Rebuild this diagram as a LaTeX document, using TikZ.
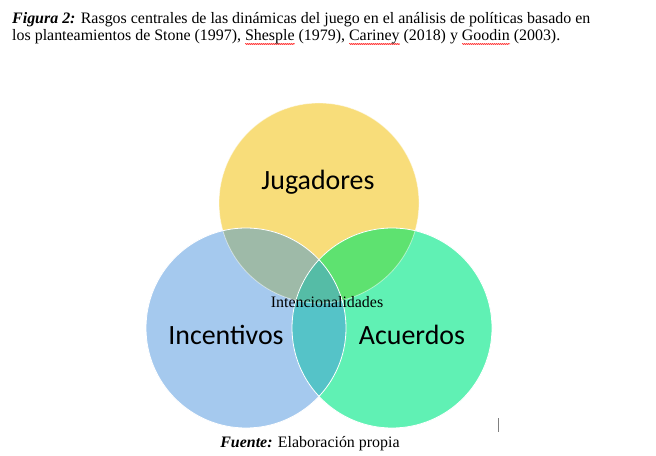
\documentclass[tikz,border=0pt]{standalone}
\usepackage{fontspec}
\setmainfont{Liberation Serif}
\newfontfamily\calib{Carlito}
\usetikzlibrary{decorations.pathmorphing}
\newsavebox\spbox
\newcommand\spellerr[1]{\begingroup\sbox\spbox{#1}\rlap{\tikz[x=1bp,y=1bp,baseline=0pt]{\draw[red, line width=0.5bp, decorate, decoration={zigzag, segment length=2bp, amplitude=0.6bp}] (0,-3) -- (\the\wd\spbox,-3);}}\usebox\spbox\endgroup}
\definecolor{cy}{HTML}{F8DD7A}
\definecolor{cb}{HTML}{A5C9EE}
\definecolor{cg}{HTML}{60F1B4}
\definecolor{cyb}{HTML}{9EBAA8}
\definecolor{cyg}{HTML}{5EE270}
\definecolor{cbg}{HTML}{55C3C8}
\definecolor{cybg}{HTML}{55BCA6}
\tikzset{
  captxt/.style={font=\fontsize{16}{19}\selectfont, inner sep=0pt, anchor=base west},
  bigtxt/.style={font=\calib\fontsize{28}{32}\selectfont, inner sep=0pt},
  smalltxt/.style={font=\fontsize{16}{19}\selectfont, inner sep=0pt, anchor=base},
  rim/.style={draw=white, line width=0.8bp},
}
\begin{document}
\begin{tikzpicture}[x=1bp,y=-1bp]
\path[use as bounding box, fill=white] (0,0) rectangle (656,456);
\node[captxt] (t1) at (12,23.5) {\textbf{\textit{Figura 2:}} Rasgos centrales de las dinámicas del juego en el análisis de políticas basado en};
\node[captxt] (t2) at (12,41) {los planteamientos de Stone (1997), \spellerr{Shesple} (1979), \spellerr{Cariney} (2018) y \spellerr{Goodin} (2003).};
\coordinate (Y) at (319,203);
\coordinate (B) at (246,328);
\coordinate (G) at (392,328);
\fill[cy] (Y) circle[radius=100bp];
\fill[cb] (B) circle[radius=100bp];
\fill[cg] (G) circle[radius=100bp];
\begin{scope}
  \clip (Y) circle[radius=100bp];
  \fill[cyb] (B) circle[radius=100bp];
  \fill[cyg] (G) circle[radius=100bp];
\end{scope}
\begin{scope}
  \clip (B) circle[radius=100bp];
  \fill[cbg] (G) circle[radius=100bp];
  \clip (Y) circle[radius=100bp];
  \fill[cybg] (G) circle[radius=100bp];
\end{scope}
\draw[rim, draw opacity=0.5] (Y) circle[radius=100bp];
\draw[rim] (B) circle[radius=100bp];
\draw[rim] (G) circle[radius=100bp];
\node[bigtxt] (jug) at (318,182) {Jugadores};
\node[bigtxt] (inc) at (226,335) {Incentivos};
\node[bigtxt] (acu) at (412,335) {Acuerdos};
\node[smalltxt] (int) at (327,308) {Intencionalidades};
\node[smalltxt] (fue) at (310,447) {\textbf{\textit{Fuente:}} Elaboración propia};
\coordinate (c1) at (498,418);
\coordinate (c2) at (498,432);
\draw[gray, line width=1bp] (c1) -- (c2);
\end{tikzpicture}
\end{document}
